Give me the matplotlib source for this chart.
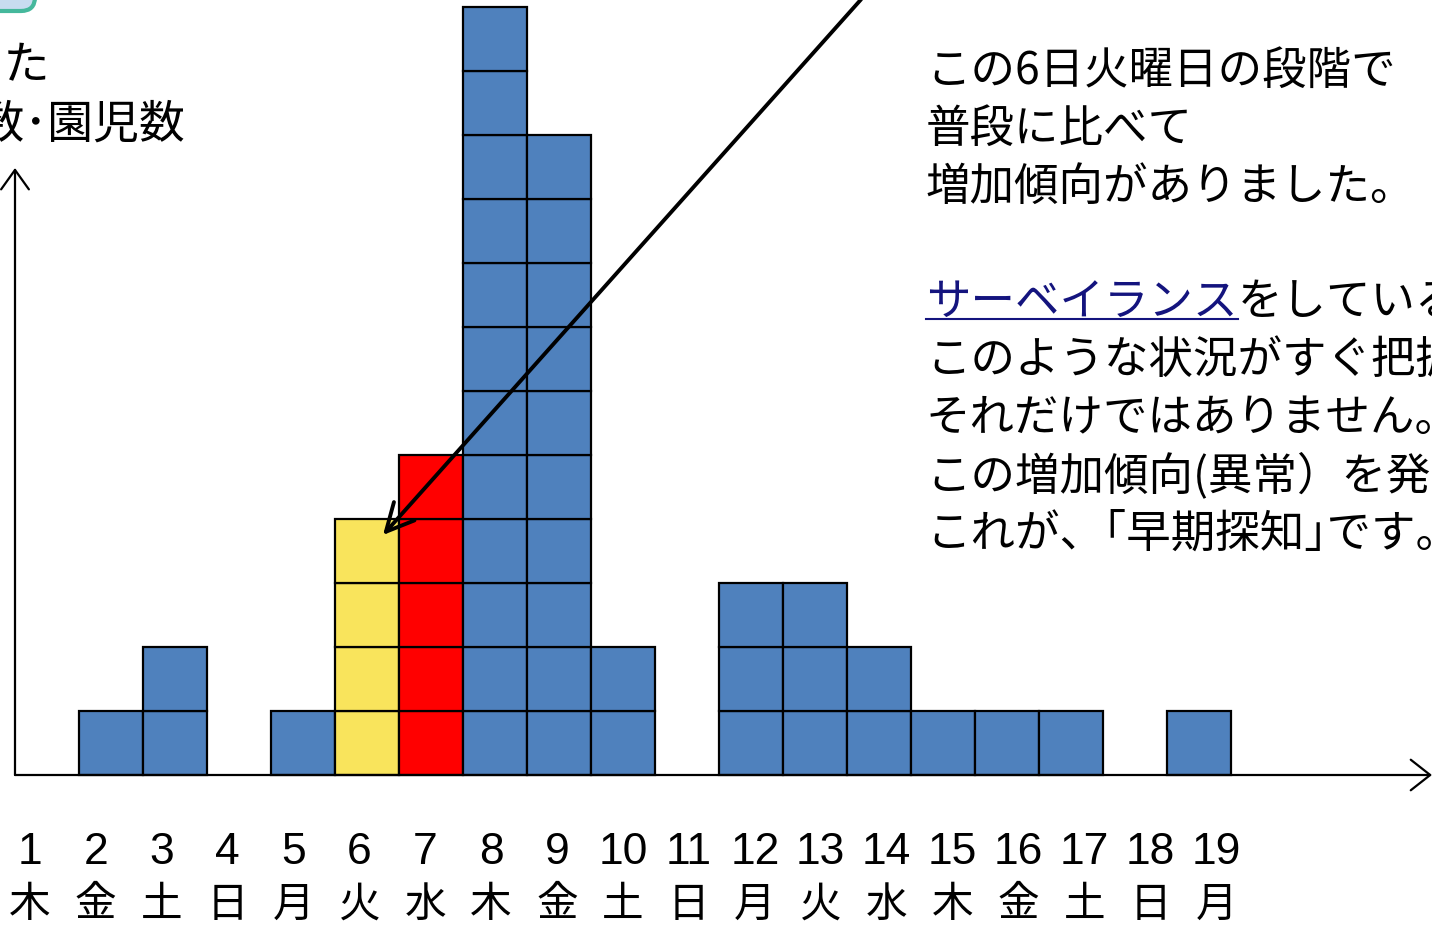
import matplotlib.pyplot as plt
from matplotlib.lines import Line2D
from matplotlib.patches import FancyBboxPatch
from matplotlib.transforms import IdentityTransform

plt.rcParams['font.family'] = ['Noto Sans CJK JP', 'DejaVu Sans']

# cases per day (each square = one case)
days = list(range(1, 20))
weekdays = ['木', '金', '土', '日', '月', '火', '水', '木', '金', '土',
            '日', '月', '火', '水', '木', '金', '土', '日', '月']
cases = [0, 1, 2, 0, 1, 4, 5, 12, 10, 2, 0, 3, 3, 2, 1, 1, 1, 0, 1]
highlight = {6: '#F9E45C', 7: '#FF0000'}
base_color = '#4F81BD'

note_lines = ['この6日火曜日の段階で', '普段に比べて', '増加傾向がありました。', '',
              None,
              'このような状況がすぐ把握できます。',
              'それだけではありません。',
              'この増加傾向(異常）を発見すること､',
              'これが、｢早期探知｣です。']
link_word = 'サーベイランス'
link_rest = 'をしていると'

W, H = 1432, 927
fig = plt.figure(figsize=(W / 100, H / 100), dpi=100)
ax = fig.add_axes([0, 0, 1, 1])
ax.axis('off')
# one square = 64 px, day 1 starts at px 15, baseline at px 775
ax.set_xlim(0.5 - 15 / 64, 0.5 + (W - 15) / 64)
ax.set_ylim((775 - H) / 64, 775 / 64)

xs, bots, cols = [], [], []
for d, c in zip(days, cases):
    for k in range(c):
        xs.append(d)
        bots.append(k)
        cols.append(highlight.get(d, base_color))
ax.bar(xs, [1] * len(xs), bottom=bots, width=1, color=cols,
       edgecolor='black', linewidth=1.6, zorder=2)

# axes with open arrow heads
ax.annotate('', xy=(0.5 + (W - 15) / 64, 0), xytext=(0.5, 0),
            arrowprops=dict(arrowstyle='->,head_length=0.7,head_width=0.55',
                            lw=1.6, color='black', mutation_scale=20,
                            shrinkA=0, shrinkB=0), zorder=3)
ax.annotate('', xy=(0.5, (775 - 168) / 64), xytext=(0.5, 0),
            arrowprops=dict(arrowstyle='->,head_length=0.7,head_width=0.5',
                            lw=1.6, color='black', mutation_scale=20,
                            shrinkA=0, shrinkB=0), zorder=3)

# pointer arrow to day 6
ax.annotate('', xy=(6.25, 3.75), xytext=(13.72, 775 / 64 + 0.01),
            arrowprops=dict(arrowstyle='->,head_length=0.9,head_width=0.45',
                            lw=2.8, color='black', mutation_scale=22,
                            shrinkA=0, shrinkB=0), zorder=4)

# day labels
for d, wd in zip(days, weekdays):
    xl = 10 + (d - 10) * 1.03
    ax.text(xl, (775 - 852) / 64, str(d), ha='center', va='center',
            fontsize=32, family=['Liberation Sans', 'DejaVu Sans'])
    ax.text(xl, (775 - 905) / 64, wd, ha='center', va='center', fontsize=30)

# y-axis caption, clipped at the left edge
fig.text(50 / W, 1 - 66 / H, '欠席した', ha='right', va='center', fontsize=33)
fig.text(185 / W, 1 - 124 / H, '児童生徒数･園児数', ha='right', va='center', fontsize=33)

# corner of a rounded box at the top left
box = FancyBboxPatch((-80, H - 11), 115, 90,
                     boxstyle='round,pad=0,rounding_size=14',
                     facecolor='#C8DCF0', edgecolor='#45B89C', linewidth=3,
                     transform=IdentityTransform())
fig.add_artist(box)

# explanatory text on the right
x0 = 926 / W
link_txt = None
for i, line in enumerate(note_lines):
    y = 1 - (71 + i * 57.8) / H
    if line is None:
        link_txt = fig.text(x0, y, link_word, ha='left', va='center',
                            fontsize=32, color='#14147E')
        link_y = y
    elif line:
        fig.text(x0, y, line, ha='left', va='center', fontsize=32)

fig.canvas.draw()
bb = link_txt.get_window_extent()
fig.text(bb.x1 / W, link_y, link_rest, ha='left', va='center', fontsize=32)
uy = 1 - 319 / H
fig.add_artist(Line2D([bb.x0 / W, bb.x1 / W], [uy, uy], color='#14147E',
                      linewidth=1.5, transform=fig.transFigure))

fig.savefig('out.png', dpi=100)
